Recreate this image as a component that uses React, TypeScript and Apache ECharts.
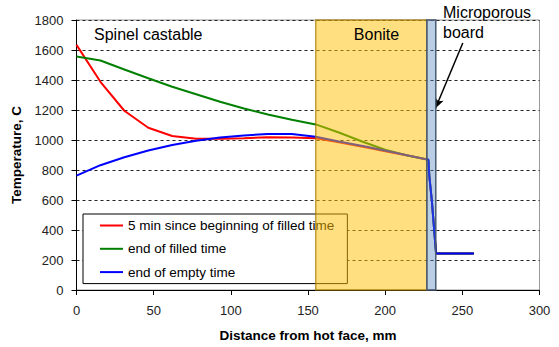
import React, { useEffect, useRef } from "react";
import * as echarts from "echarts";

const FONT = "'Liberation Sans', Arial, sans-serif";

const seriesNames = [
  "5 min since beginning of filled time",
  "end of filled time",
  "end of empty time",
];

const redData: [number, number][] = [
  [0, 1634], [15.5, 1388], [31, 1195], [46.5, 1082], [62, 1027], [77.5, 1008],
  [93, 1008], [108.5, 1012], [124, 1018], [139.5, 1016], [155, 1012],
  [170, 985], [188, 950], [205, 915], [218, 890], [228, 868],
  [228.6, 760], [230.2, 600], [233, 243], [257.5, 243],
];

const greenData: [number, number][] = [
  [0, 1556], [15.5, 1530], [31, 1470], [46.5, 1412], [62, 1355], [77.5, 1305],
  [93, 1255], [108.5, 1210], [124, 1170], [139.5, 1135], [155, 1104],
  [170, 1050], [185, 990], [200, 935], [215, 895], [228, 868],
  [228.6, 760], [230.2, 600], [233, 243], [257.5, 243],
];

const blueData: [number, number][] = [
  [0, 762], [15.5, 832], [31, 885], [46.5, 930], [62, 966], [77.5, 995],
  [93, 1016], [108.5, 1030], [124, 1040], [139.5, 1040], [155, 1022],
  [170, 990], [188, 955], [205, 918], [218, 890], [228, 868],
  [228.6, 760], [230.2, 600], [233, 243], [257.5, 243],
];

const bandStart = [155, 227];
const bandEnd = [227, 232.8];
const bandFill = ["rgba(255,192,0,0.5)", "rgba(79,129,189,0.4)"];
const bandStroke = ["rgba(160,120,0,0.7)", "#4a5a72"];

const arrowFrom: [number, number] = [250.3, 1647];
const arrowTo: [number, number] = [232.6, 1212];

export default function App() {
  const ref = useRef<HTMLDivElement>(null);
  useEffect(() => {
    if (!ref.current) return;
    const chart = echarts.init(ref.current, undefined, { renderer: "svg" });
    const lineSeries = (name: string, data: [number, number][], color: string, extra: any = {}) => ({
      type: "line",
      name,
      data,
      symbol: "none",
      showSymbol: false,
      lineStyle: { color, width: 2 },
      itemStyle: { color },
      z: 2,
      ...extra,
    });
    chart.setOption({
      animation: false,
      textStyle: { fontFamily: FONT },
      grid: {
        left: 76.5,
        right: 19.5,
        top: 20,
        bottom: 55.3,
        show: true,
        borderColor: "#999",
        borderWidth: 1,
        backgroundColor: "transparent",
      },
      xAxis: {
        type: "value",
        min: 0,
        max: 300,
        interval: 50,
        name: "Distance from hot face, mm",
        nameLocation: "middle",
        nameGap: 38,
        nameTextStyle: { fontFamily: FONT, fontSize: 13.5, fontWeight: "bold", color: "#000" },
        axisLine: { show: true, lineStyle: { color: "#000", width: 1 } },
        axisTick: { show: true, length: 5, lineStyle: { color: "#000" } },
        axisLabel: { fontFamily: FONT, fontSize: 13, color: "#222", margin: 13.5, formatter: (v: number) => String(v) },
        splitLine: { show: false },
      },
      yAxis: {
        type: "value",
        min: 0,
        max: 1800,
        interval: 200,
        name: "Temperature, C",
        nameLocation: "middle",
        nameGap: 53,
        nameTextStyle: { fontFamily: FONT, fontSize: 13.5, fontWeight: "bold", color: "#000" },
        axisLine: { show: true, lineStyle: { color: "#000", width: 1 } },
        axisTick: { show: true, length: 5, lineStyle: { color: "#000" } },
        axisLabel: { fontFamily: FONT, fontSize: 13, color: "#222", margin: 13, formatter: (v: number) => String(v) },
        splitLine: { show: true, lineStyle: { color: "#222", type: [3, 3], width: 1 } },
      },
      legend: {
        data: seriesNames,
        orient: "vertical",
        left: 83,
        top: 214,
        padding: [4.5, 13, 4.5, 17],
        itemGap: 9.3,
        itemWidth: 23,
        itemHeight: 2,
        icon: "rect",
        backgroundColor: "#fff",
        borderColor: "#000",
        borderWidth: 1,
        textStyle: { fontFamily: FONT, fontSize: 13.5, color: "#000", lineHeight: 14 },
        z: 4,
      },
      graphic: [
        {
          type: "text",
          x: 94,
          y: 34,
          z: 100,
          style: { text: "Spinel castable", font: `16px ${FONT}`, fill: "#000", textVerticalAlign: "middle" },
        },
        {
          type: "text",
          x: 376.5,
          y: 34,
          z: 100,
          style: { text: "Bonite", font: `16px ${FONT}`, fill: "#000", textAlign: "center", textVerticalAlign: "middle" },
        },
        {
          type: "text",
          x: 443,
          y: 2.5,
          z: 100,
          style: { text: "Microporous\nboard", font: `16px ${FONT}`, fill: "#000", lineHeight: 20 },
        },
      ],
      series: [
        lineSeries(seriesNames[0], redData, "#ff0000"),
        lineSeries(seriesNames[1], greenData, "#008000"),
        lineSeries(seriesNames[2], blueData, "#0000ff", {
          markLine: {
            silent: true,
            symbol: ["none", "arrow"],
            symbolSize: [7, 10],
            label: { show: false },
            lineStyle: { color: "#000", width: 1.5, type: "solid" },
            data: [[{ coord: arrowFrom }, { coord: arrowTo }]],
          },
        }),
        {
          type: "custom",
          name: "bands",
          z: 10,
          silent: true,
          clip: false,
          data: bandStart.map((s, i) => [s, bandEnd[i], i]),
          encode: { x: [0, 1] },
          renderItem: (params: any, api: any) => {
            const idx = params.dataIndex;
            const a = api.coord([api.value(0), 1800]);
            const b = api.coord([api.value(1), 0]);
            return {
              type: "rect",
              shape: { x: a[0], y: a[1], width: b[0] - a[0], height: b[1] - a[1] },
              style: { fill: bandFill[idx], stroke: bandStroke[idx], lineWidth: 1.5 },
            };
          },
        },
      ],
    });
    return () => chart.dispose();
  }, []);
  return (
    <div
      ref={ref}
      style={{ position: "fixed", left: 0, top: 0, width: 559, height: 347, background: "#fff" }}
    />
  );
}
